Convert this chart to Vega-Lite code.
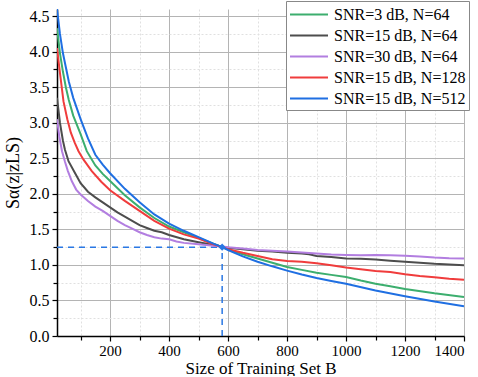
{
  "$schema": "https://vega.github.io/schema/vega-lite/v6.json",
  "width": 407,
  "height": 327,
  "padding": {"left": 4, "top": 0, "right": 5, "bottom": 0},
  "config": {
    "font": "Liberation Serif",
    "view": {"stroke": null}
  },
  "resolve": {"axis": {"x": "independent", "y": "independent"}},
  "datasets": {
    "curves": [
      {"series": "SNR=3 dB, N=64", "B": 20, "S": 4.33},
      {"series": "SNR=3 dB, N=64", "B": 30, "S": 3.98},
      {"series": "SNR=3 dB, N=64", "B": 40, "S": 3.72},
      {"series": "SNR=3 dB, N=64", "B": 50, "S": 3.5},
      {"series": "SNR=3 dB, N=64", "B": 60, "S": 3.32},
      {"series": "SNR=3 dB, N=64", "B": 75, "S": 3.1},
      {"series": "SNR=3 dB, N=64", "B": 100, "S": 2.84},
      {"series": "SNR=3 dB, N=64", "B": 121, "S": 2.6},
      {"series": "SNR=3 dB, N=64", "B": 150, "S": 2.4},
      {"series": "SNR=3 dB, N=64", "B": 175, "S": 2.28},
      {"series": "SNR=3 dB, N=64", "B": 200, "S": 2.18},
      {"series": "SNR=3 dB, N=64", "B": 250, "S": 1.98},
      {"series": "SNR=3 dB, N=64", "B": 300, "S": 1.81},
      {"series": "SNR=3 dB, N=64", "B": 350, "S": 1.66},
      {"series": "SNR=3 dB, N=64", "B": 400, "S": 1.54},
      {"series": "SNR=3 dB, N=64", "B": 450, "S": 1.46},
      {"series": "SNR=3 dB, N=64", "B": 500, "S": 1.38},
      {"series": "SNR=3 dB, N=64", "B": 550, "S": 1.3},
      {"series": "SNR=3 dB, N=64", "B": 580, "S": 1.25},
      {"series": "SNR=3 dB, N=64", "B": 600, "S": 1.22},
      {"series": "SNR=3 dB, N=64", "B": 650, "S": 1.15},
      {"series": "SNR=3 dB, N=64", "B": 700, "S": 1.09},
      {"series": "SNR=3 dB, N=64", "B": 750, "S": 1.03},
      {"series": "SNR=3 dB, N=64", "B": 800, "S": 0.97},
      {"series": "SNR=3 dB, N=64", "B": 850, "S": 0.93},
      {"series": "SNR=3 dB, N=64", "B": 900, "S": 0.89},
      {"series": "SNR=3 dB, N=64", "B": 950, "S": 0.86},
      {"series": "SNR=3 dB, N=64", "B": 1000, "S": 0.83},
      {"series": "SNR=3 dB, N=64", "B": 1050, "S": 0.78},
      {"series": "SNR=3 dB, N=64", "B": 1100, "S": 0.735},
      {"series": "SNR=3 dB, N=64", "B": 1150, "S": 0.7},
      {"series": "SNR=3 dB, N=64", "B": 1200, "S": 0.66},
      {"series": "SNR=3 dB, N=64", "B": 1300, "S": 0.6},
      {"series": "SNR=3 dB, N=64", "B": 1400, "S": 0.55},

      {"series": "SNR=15 dB, N=64", "B": 20, "S": 3.35},
      {"series": "SNR=15 dB, N=64", "B": 30, "S": 3.0},
      {"series": "SNR=15 dB, N=64", "B": 40, "S": 2.75},
      {"series": "SNR=15 dB, N=64", "B": 47, "S": 2.62},
      {"series": "SNR=15 dB, N=64", "B": 59, "S": 2.46},
      {"series": "SNR=15 dB, N=64", "B": 80, "S": 2.3},
      {"series": "SNR=15 dB, N=64", "B": 100, "S": 2.15},
      {"series": "SNR=15 dB, N=64", "B": 125, "S": 2.03},
      {"series": "SNR=15 dB, N=64", "B": 150, "S": 1.95},
      {"series": "SNR=15 dB, N=64", "B": 175, "S": 1.88},
      {"series": "SNR=15 dB, N=64", "B": 200, "S": 1.81},
      {"series": "SNR=15 dB, N=64", "B": 225, "S": 1.74},
      {"series": "SNR=15 dB, N=64", "B": 250, "S": 1.68},
      {"series": "SNR=15 dB, N=64", "B": 275, "S": 1.62},
      {"series": "SNR=15 dB, N=64", "B": 300, "S": 1.56},
      {"series": "SNR=15 dB, N=64", "B": 325, "S": 1.52},
      {"series": "SNR=15 dB, N=64", "B": 350, "S": 1.48},
      {"series": "SNR=15 dB, N=64", "B": 375, "S": 1.46},
      {"series": "SNR=15 dB, N=64", "B": 400, "S": 1.42},
      {"series": "SNR=15 dB, N=64", "B": 450, "S": 1.36},
      {"series": "SNR=15 dB, N=64", "B": 500, "S": 1.32},
      {"series": "SNR=15 dB, N=64", "B": 550, "S": 1.28},
      {"series": "SNR=15 dB, N=64", "B": 580, "S": 1.26},
      {"series": "SNR=15 dB, N=64", "B": 600, "S": 1.24},
      {"series": "SNR=15 dB, N=64", "B": 650, "S": 1.22},
      {"series": "SNR=15 dB, N=64", "B": 700, "S": 1.2},
      {"series": "SNR=15 dB, N=64", "B": 750, "S": 1.19},
      {"series": "SNR=15 dB, N=64", "B": 800, "S": 1.17},
      {"series": "SNR=15 dB, N=64", "B": 850, "S": 1.16},
      {"series": "SNR=15 dB, N=64", "B": 875, "S": 1.15},
      {"series": "SNR=15 dB, N=64", "B": 900, "S": 1.125},
      {"series": "SNR=15 dB, N=64", "B": 950, "S": 1.11},
      {"series": "SNR=15 dB, N=64", "B": 1000, "S": 1.09},
      {"series": "SNR=15 dB, N=64", "B": 1050, "S": 1.085},
      {"series": "SNR=15 dB, N=64", "B": 1100, "S": 1.075},
      {"series": "SNR=15 dB, N=64", "B": 1150, "S": 1.06},
      {"series": "SNR=15 dB, N=64", "B": 1200, "S": 1.045},
      {"series": "SNR=15 dB, N=64", "B": 1250, "S": 1.03},
      {"series": "SNR=15 dB, N=64", "B": 1300, "S": 1.015},
      {"series": "SNR=15 dB, N=64", "B": 1350, "S": 1.005},
      {"series": "SNR=15 dB, N=64", "B": 1400, "S": 0.995},

      {"series": "SNR=30 dB, N=64", "B": 20, "S": 3.05},
      {"series": "SNR=30 dB, N=64", "B": 28, "S": 2.8},
      {"series": "SNR=30 dB, N=64", "B": 37, "S": 2.6},
      {"series": "SNR=30 dB, N=64", "B": 47, "S": 2.45},
      {"series": "SNR=30 dB, N=64", "B": 57, "S": 2.32},
      {"series": "SNR=30 dB, N=64", "B": 70, "S": 2.18},
      {"series": "SNR=30 dB, N=64", "B": 85, "S": 2.06},
      {"series": "SNR=30 dB, N=64", "B": 100, "S": 1.99},
      {"series": "SNR=30 dB, N=64", "B": 125, "S": 1.9},
      {"series": "SNR=30 dB, N=64", "B": 150, "S": 1.82},
      {"series": "SNR=30 dB, N=64", "B": 175, "S": 1.76},
      {"series": "SNR=30 dB, N=64", "B": 200, "S": 1.69},
      {"series": "SNR=30 dB, N=64", "B": 225, "S": 1.62},
      {"series": "SNR=30 dB, N=64", "B": 250, "S": 1.56},
      {"series": "SNR=30 dB, N=64", "B": 275, "S": 1.51},
      {"series": "SNR=30 dB, N=64", "B": 300, "S": 1.46},
      {"series": "SNR=30 dB, N=64", "B": 325, "S": 1.42},
      {"series": "SNR=30 dB, N=64", "B": 350, "S": 1.39},
      {"series": "SNR=30 dB, N=64", "B": 375, "S": 1.37},
      {"series": "SNR=30 dB, N=64", "B": 400, "S": 1.36},
      {"series": "SNR=30 dB, N=64", "B": 425, "S": 1.33},
      {"series": "SNR=30 dB, N=64", "B": 450, "S": 1.31},
      {"series": "SNR=30 dB, N=64", "B": 500, "S": 1.29},
      {"series": "SNR=30 dB, N=64", "B": 550, "S": 1.27},
      {"series": "SNR=30 dB, N=64", "B": 580, "S": 1.26},
      {"series": "SNR=30 dB, N=64", "B": 600, "S": 1.25},
      {"series": "SNR=30 dB, N=64", "B": 650, "S": 1.23},
      {"series": "SNR=30 dB, N=64", "B": 700, "S": 1.21},
      {"series": "SNR=30 dB, N=64", "B": 750, "S": 1.2},
      {"series": "SNR=30 dB, N=64", "B": 800, "S": 1.19},
      {"series": "SNR=30 dB, N=64", "B": 850, "S": 1.175},
      {"series": "SNR=30 dB, N=64", "B": 900, "S": 1.16},
      {"series": "SNR=30 dB, N=64", "B": 950, "S": 1.145},
      {"series": "SNR=30 dB, N=64", "B": 1000, "S": 1.14},
      {"series": "SNR=30 dB, N=64", "B": 1050, "S": 1.135},
      {"series": "SNR=30 dB, N=64", "B": 1100, "S": 1.138},
      {"series": "SNR=30 dB, N=64", "B": 1150, "S": 1.135},
      {"series": "SNR=30 dB, N=64", "B": 1200, "S": 1.128},
      {"series": "SNR=30 dB, N=64", "B": 1250, "S": 1.12},
      {"series": "SNR=30 dB, N=64", "B": 1300, "S": 1.105},
      {"series": "SNR=30 dB, N=64", "B": 1350, "S": 1.095},
      {"series": "SNR=30 dB, N=64", "B": 1400, "S": 1.09},

      {"series": "SNR=15 dB, N=128", "B": 20, "S": 4.05},
      {"series": "SNR=15 dB, N=128", "B": 30, "S": 3.7},
      {"series": "SNR=15 dB, N=128", "B": 42, "S": 3.3},
      {"series": "SNR=15 dB, N=128", "B": 55, "S": 3.05},
      {"series": "SNR=15 dB, N=128", "B": 67, "S": 2.86},
      {"series": "SNR=15 dB, N=128", "B": 80, "S": 2.72},
      {"series": "SNR=15 dB, N=128", "B": 93, "S": 2.6},
      {"series": "SNR=15 dB, N=128", "B": 110, "S": 2.48},
      {"series": "SNR=15 dB, N=128", "B": 138, "S": 2.32},
      {"series": "SNR=15 dB, N=128", "B": 170, "S": 2.17},
      {"series": "SNR=15 dB, N=128", "B": 200, "S": 2.05},
      {"series": "SNR=15 dB, N=128", "B": 250, "S": 1.9},
      {"series": "SNR=15 dB, N=128", "B": 300, "S": 1.76},
      {"series": "SNR=15 dB, N=128", "B": 350, "S": 1.62},
      {"series": "SNR=15 dB, N=128", "B": 400, "S": 1.51},
      {"series": "SNR=15 dB, N=128", "B": 450, "S": 1.43},
      {"series": "SNR=15 dB, N=128", "B": 500, "S": 1.37},
      {"series": "SNR=15 dB, N=128", "B": 550, "S": 1.29},
      {"series": "SNR=15 dB, N=128", "B": 580, "S": 1.25},
      {"series": "SNR=15 dB, N=128", "B": 600, "S": 1.22},
      {"series": "SNR=15 dB, N=128", "B": 650, "S": 1.17},
      {"series": "SNR=15 dB, N=128", "B": 700, "S": 1.125},
      {"series": "SNR=15 dB, N=128", "B": 750, "S": 1.08},
      {"series": "SNR=15 dB, N=128", "B": 800, "S": 1.055},
      {"series": "SNR=15 dB, N=128", "B": 850, "S": 1.045},
      {"series": "SNR=15 dB, N=128", "B": 900, "S": 1.025},
      {"series": "SNR=15 dB, N=128", "B": 950, "S": 0.995},
      {"series": "SNR=15 dB, N=128", "B": 1000, "S": 0.965},
      {"series": "SNR=15 dB, N=128", "B": 1050, "S": 0.94},
      {"series": "SNR=15 dB, N=128", "B": 1100, "S": 0.915},
      {"series": "SNR=15 dB, N=128", "B": 1150, "S": 0.9},
      {"series": "SNR=15 dB, N=128", "B": 1200, "S": 0.87},
      {"series": "SNR=15 dB, N=128", "B": 1250, "S": 0.845},
      {"series": "SNR=15 dB, N=128", "B": 1300, "S": 0.825},
      {"series": "SNR=15 dB, N=128", "B": 1350, "S": 0.805},
      {"series": "SNR=15 dB, N=128", "B": 1400, "S": 0.79},

      {"series": "SNR=15 dB, N=512", "B": 20, "S": 4.6},
      {"series": "SNR=15 dB, N=512", "B": 30, "S": 4.25},
      {"series": "SNR=15 dB, N=512", "B": 40, "S": 3.98},
      {"series": "SNR=15 dB, N=512", "B": 50, "S": 3.78},
      {"series": "SNR=15 dB, N=512", "B": 60, "S": 3.58},
      {"series": "SNR=15 dB, N=512", "B": 75, "S": 3.35},
      {"series": "SNR=15 dB, N=512", "B": 100, "S": 3.05},
      {"series": "SNR=15 dB, N=512", "B": 125, "S": 2.78},
      {"series": "SNR=15 dB, N=512", "B": 150, "S": 2.55},
      {"series": "SNR=15 dB, N=512", "B": 175, "S": 2.41},
      {"series": "SNR=15 dB, N=512", "B": 200, "S": 2.29},
      {"series": "SNR=15 dB, N=512", "B": 250, "S": 2.07},
      {"series": "SNR=15 dB, N=512", "B": 300, "S": 1.88},
      {"series": "SNR=15 dB, N=512", "B": 350, "S": 1.71},
      {"series": "SNR=15 dB, N=512", "B": 400, "S": 1.58},
      {"series": "SNR=15 dB, N=512", "B": 450, "S": 1.48},
      {"series": "SNR=15 dB, N=512", "B": 500, "S": 1.39},
      {"series": "SNR=15 dB, N=512", "B": 550, "S": 1.3},
      {"series": "SNR=15 dB, N=512", "B": 580, "S": 1.25},
      {"series": "SNR=15 dB, N=512", "B": 600, "S": 1.21},
      {"series": "SNR=15 dB, N=512", "B": 650, "S": 1.12},
      {"series": "SNR=15 dB, N=512", "B": 700, "S": 1.045},
      {"series": "SNR=15 dB, N=512", "B": 750, "S": 0.98},
      {"series": "SNR=15 dB, N=512", "B": 800, "S": 0.92},
      {"series": "SNR=15 dB, N=512", "B": 850, "S": 0.865},
      {"series": "SNR=15 dB, N=512", "B": 900, "S": 0.815},
      {"series": "SNR=15 dB, N=512", "B": 950, "S": 0.775},
      {"series": "SNR=15 dB, N=512", "B": 1000, "S": 0.735},
      {"series": "SNR=15 dB, N=512", "B": 1100, "S": 0.64},
      {"series": "SNR=15 dB, N=512", "B": 1200, "S": 0.56},
      {"series": "SNR=15 dB, N=512", "B": 1300, "S": 0.485},
      {"series": "SNR=15 dB, N=512", "B": 1400, "S": 0.42}
    ],
    "hguide": [{"B": 20, "B2": 580, "S": 1.25}],
    "vguide": [{"B": 580, "S": 0, "S2": 1.25}],
    "marker": [{"B": 580, "S": 1.25}]
  },
  "layer": [
    {
      "data": {"name": "hguide"},
      "mark": {"type": "rule", "color": "#2a78e4", "strokeWidth": 1.5, "strokeDash": [6, 5]},
      "encoding": {
        "x": {
          "field": "B",
          "type": "quantitative",
          "scale": {"domain": [20, 1400], "nice": false, "zero": false},
          "axis": {
            "orient": "bottom",
            "title": null,
            "values": [100, 300, 500, 700, 900, 1100, 1300],
            "labels": false,
            "domain": false,
            "ticks": true,
            "tickColor": "black",
            "tickSize": 4,
            "tickWidth": 1.2,
            "grid": true,
            "gridColor": "#e0e0e0",
            "gridDash": [2, 2]
          }
        },
        "x2": {"field": "B2"},
        "y": {
          "field": "S",
          "type": "quantitative",
          "scale": {"domain": [0, 4.6], "nice": false},
          "axis": {
            "orient": "left",
            "title": null,
            "values": [0.25, 0.75, 1.25, 1.75, 2.25, 2.75, 3.25, 3.75, 4.25],
            "labels": false,
            "domain": false,
            "ticks": true,
            "tickColor": "black",
            "tickSize": 4,
            "tickWidth": 1.2,
            "grid": true,
            "gridColor": "#e0e0e0",
            "gridDash": [2, 2]
          }
        }
      }
    },
    {
      "data": {"name": "curves"},
      "mark": {"type": "line", "strokeWidth": 2, "clip": true},
      "encoding": {
        "x": {
          "field": "B",
          "type": "quantitative",
          "axis": {
            "orient": "bottom",
            "title": "Size of Training Set B",
            "values": [200, 400, 600, 800, 1000, 1200, 1400],
            "format": "d",
            "labelOverlap": false,
            "labelFont": "Liberation Serif",
            "labelFontSize": 15,
            "labelColor": "black",
            "labelPadding": 2,
            "titleFont": "Liberation Serif",
            "titleFontSize": 17,
            "titleFontWeight": "normal",
            "titleColor": "black",
            "titlePadding": 2,
            "domainColor": "black",
            "domainWidth": 1.5,
            "tickColor": "black",
            "tickWidth": 1.2,
            "tickSize": 5,
            "grid": true,
            "gridColor": "#b4b4b4",
            "gridWidth": 1
          }
        },
        "y": {
          "field": "S",
          "type": "quantitative",
          "axis": {
            "orient": "left",
            "title": "Sα(z|zLS)",
            "values": [0, 0.5, 1, 1.5, 2, 2.5, 3, 3.5, 4, 4.5],
            "format": ".1f",
            "labelOverlap": false,
            "labelFont": "Liberation Serif",
            "labelFontSize": 16,
            "labelColor": "black",
            "labelPadding": 3,
            "titleFont": "Liberation Serif",
            "titleFontSize": 18,
            "titleFontWeight": "normal",
            "titleColor": "black",
            "titlePadding": 7,
            "domainColor": "black",
            "domainWidth": 1.5,
            "tickColor": "black",
            "tickWidth": 1.2,
            "tickSize": 5,
            "grid": true,
            "gridColor": "#b4b4b4",
            "gridWidth": 1
          }
        },
        "color": {
          "field": "series",
          "type": "nominal",
          "scale": {
            "domain": ["SNR=3 dB, N=64", "SNR=15 dB, N=64", "SNR=30 dB, N=64", "SNR=15 dB, N=128", "SNR=15 dB, N=512"],
            "range": ["#3cae6e", "#4d4d4d", "#b27ee0", "#f03c3c", "#1f6fe2"]
          },
          "legend": {
            "orient": "none",
            "legendX": 229,
            "legendY": -8,
            "title": null,
            "symbolType": "M-1,0H3",
            "symbolStrokeWidth": 2,
            "symbolSize": 361,
            "labelFont": "Liberation Serif",
            "labelFontSize": 16,
            "labelColor": "black",
            "labelOffset": 24,
            "strokeColor": "#888888",
            "fillColor": "white",
            "padding": 3,
            "rowPadding": 2
          }
        }
      }
    },
    {
      "data": {"name": "vguide"},
      "mark": {"type": "rule", "color": "#2a78e4", "strokeWidth": 1.5, "strokeDash": [6, 5]},
      "encoding": {
        "x": {"field": "B", "type": "quantitative", "axis": null},
        "y": {"field": "S", "type": "quantitative", "axis": null},
        "y2": {"field": "S2"}
      }
    },
    {
      "data": {"name": "marker"},
      "mark": {"type": "point", "shape": "diamond", "filled": true, "color": "#2a78e4", "size": 50, "opacity": 1},
      "encoding": {
        "x": {"field": "B", "type": "quantitative", "axis": null},
        "y": {"field": "S", "type": "quantitative", "axis": null}
      }
    }
  ]
}
